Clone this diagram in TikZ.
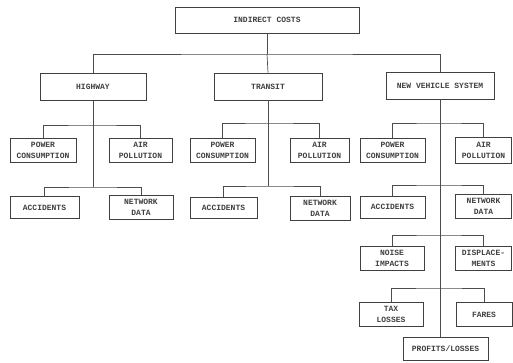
\documentclass[tikz,border=0pt]{standalone}
\usepackage{fontspec}
\setmonofont{Liberation Mono}
\begin{document}
\begin{tikzpicture}[x=1pt,y=-1pt,
  box/.style={draw=black!75, line width=0.8pt, fill=white, align=center,
    inner sep=1pt, text=black!75,
    font=\ttfamily\bfseries\fontsize{8}{11}\selectfont},
  sbox/.style={box, minimum width=65pt, minimum height=24pt},
  nbox/.style={box, minimum width=56pt, minimum height=24pt},
  wire/.style={draw=black!70, line width=0.7pt}]
\useasboundingbox (0,0) rectangle (513,362);

% top level
\node[box, minimum width=184pt, minimum height=26pt] (ic) at (267,20) {INDIRECT COSTS};
\node[box, minimum width=106pt, minimum height=27pt] (hw) at (93,87) {HIGHWAY};
\node[box, minimum width=108pt, minimum height=27pt] (tr) at (268,86.5) {TRANSIT};
\node[box, minimum width=108pt, minimum height=27pt] (nv) at (440,85.5) {NEW VEHICLE SYSTEM};

% highway
\node[sbox, minimum width=66pt] (hpc) at (43,150.5) {POWER\\CONSUMPTION};
\node[sbox, minimum width=63pt] (hap) at (140.5,150) {AIR\\POLLUTION};
\node[sbox, minimum width=69pt, minimum height=22pt] (hac) at (44.5,207.5) {ACCIDENTS};
\node[sbox, minimum width=64pt] (hnd) at (141,207.5) {NETWORK\\DATA};

% transit
\node[sbox] (tpc) at (222.5,150) {POWER\\CONSUMPTION};
\node[sbox, minimum width=59pt] (tap) at (319.5,150) {AIR\\POLLUTION};
\node[sbox, minimum width=67pt, minimum height=21pt] (tac) at (223.5,208) {ACCIDENTS};
\node[sbox, minimum width=60pt] (tnd) at (320,208) {NETWORK\\DATA};

% new vehicle system
\node[sbox] (npc) at (392.5,150) {POWER\\CONSUMPTION};
\node[nbox, minimum height=26pt] (nap) at (483.5,150.5) {AIR\\POLLUTION};
\node[sbox, minimum height=22pt] (nac) at (392.5,207) {ACCIDENTS};
\node[nbox] (nnd) at (483.5,206.5) {NETWORK\\DATA};
\node[sbox, minimum width=64pt] (nni) at (392,258.5) {NOISE\\IMPACTS};
\node[nbox] (ndi) at (483.5,258.5) {DISPLACE-\\MENTS};
\node[sbox, minimum width=64pt] (ntl) at (391,314) {TAX\\LOSSES};
\node[nbox] (nfa) at (484,314.5) {FARES};
\node[box, minimum width=85pt, minimum height=23pt] (npl) at (445.5,348.5) {PROFITS/LOSSES};

% junction levels
\coordinate (j0) at (267,54);
\coordinate (h1) at (0,125);  \coordinate (h2) at (0,187);
\coordinate (t1) at (0,123);  \coordinate (t2) at (0,186);
\coordinate (n1) at (0,123);  \coordinate (n2) at (0,185);
\coordinate (n3) at (0,235);  \coordinate (n4) at (0,288);

% connectors
\draw[wire] (ic.south -| j0) -- (j0);
\draw[wire] (hw.north) |- (j0) -| (nv.north);
\draw[wire] (j0) -- (tr.north);

\draw[wire] (hw.south) -- (hw.south |- h2);
\draw[wire] (hpc.north) |- (hw.south |- h1) -| (hap.north);
\draw[wire] (hac.north) |- (hw.south |- h2) -| (hnd.north);

\draw[wire] (tr.south) -- (tr.south |- t2);
\draw[wire] (tpc.north) |- (tr.south |- t1) -| (tap.north);
\draw[wire] (tac.north) |- (tr.south |- t2) -| (tnd.north);

\draw[wire] (nv.south) -- (npl.north -| nv.south);
\draw[wire] (npc.north) |- (nv.south |- n1) -| (nap.north);
\draw[wire] (nac.north) |- (nv.south |- n2) -| (nnd.north);
\draw[wire] (nni.north) |- (nv.south |- n3) -| (ndi.north);
\draw[wire] (ntl.north) |- (nv.south |- n4) -| (nfa.north);
\end{tikzpicture}
\end{document}
